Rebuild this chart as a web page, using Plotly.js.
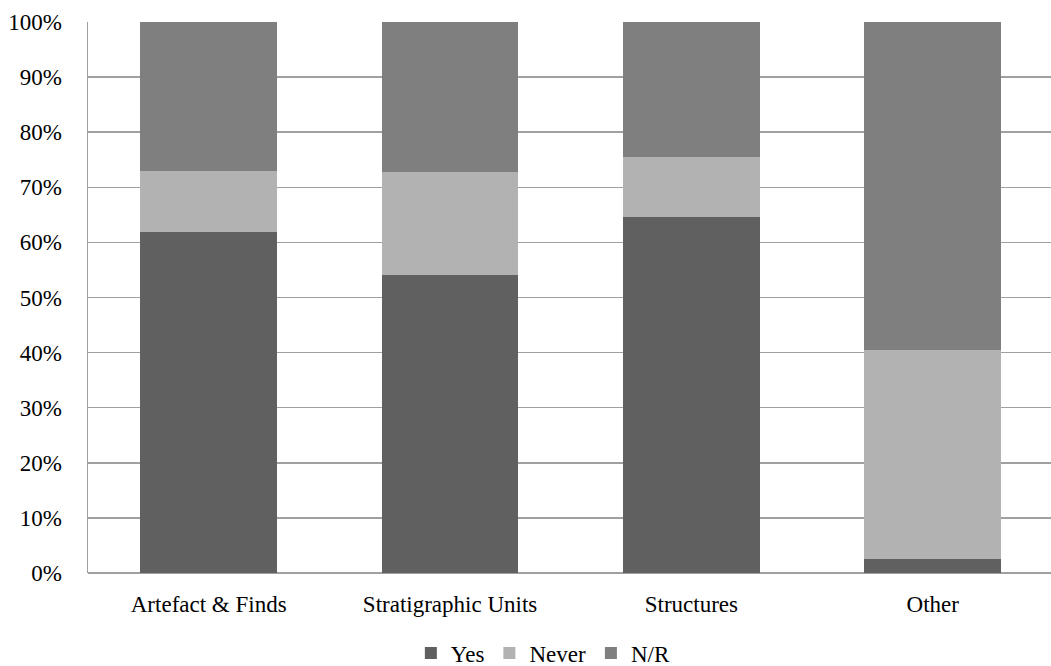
<!DOCTYPE html>
<html>
<head>
<meta charset="utf-8">
<script src="https://cdn.plot.ly/plotly-3.0.1.min.js"></script>
<style>
  html, body { margin: 0; padding: 0; background: #fff; overflow: hidden; }
  #chart { width: 1051px; height: 666px; }
</style>
</head>
<body>
<div id="chart"></div>
<script>
// Record categories and share of answers (%) per category
const categories = ["Artefact & Finds", "Stratigraphic Units", "Structures", "Other"];
const yesValues = [61.9, 54.1, 64.6, 2.5];
const neverValues = [11.0, 18.7, 10.9, 37.9];
const nrValues = [27.1, 27.2, 24.5, 59.6];
const yTickValues = [0, 10, 20, 30, 40, 50, 60, 70, 80, 90, 100];
const yTickLabels = yTickValues.map(v => v + "%");

const serif = "Liberation Serif";
const textSize = 23;

function series(name, values, color) {
  return {
    type: "bar",
    name: name,
    x: categories,
    y: values,
    marker: { color: color, line: { width: 0 } },
    hoverinfo: "skip"
  };
}

const traces = [
  series("Yes", yesValues, "#606060"),
  series("Never", neverValues, "#b2b2b2"),
  series("N/R", nrValues, "#7f7f7f")
];

const layout = {
  width: 1051,
  height: 666,
  margin: { l: 88, r: 0, t: 22, b: 93 },
  paper_bgcolor: "#ffffff",
  plot_bgcolor: "#ffffff",
  font: { family: serif, size: textSize, color: "#000" },
  barmode: "stack",
  bargap: 0.433,
  showlegend: true,
  legend: {
    orientation: "h",
    traceorder: "normal",
    xref: "container",
    yref: "container",
    x: 0.517,
    xanchor: "center",
    y: 0.0195,
    yanchor: "middle",
    font: { family: serif, size: textSize, color: "#000" },
    itemwidth: 30,
    tracegroupgap: 0
  },
  xaxis: {
    type: "category",
    range: [-0.5, 3.49],
    showgrid: false,
    zeroline: false,
    showline: false,
    ticks: "",
    ticklabelstandoff: 15,
    tickfont: { family: serif, size: textSize, color: "#000" },
    fixedrange: true
  },
  yaxis: {
    range: [0, 100],
    tickvals: yTickValues,
    ticktext: yTickLabels,
    showgrid: true,
    gridcolor: "#a0a0a0",
    gridwidth: 1.5,
    zeroline: true,
    zerolinecolor: "#a0a0a0",
    zerolinewidth: 1.5,
    showline: true,
    linecolor: "#a0a0a0",
    linewidth: 1.5,
    ticks: "",
    ticklabelstandoff: 20,
    tickfont: { family: serif, size: textSize, color: "#000" },
    fixedrange: true
  }
};

Plotly.newPlot("chart", traces, layout, { displayModeBar: false, staticPlot: true });
</script>
</body>
</html>
